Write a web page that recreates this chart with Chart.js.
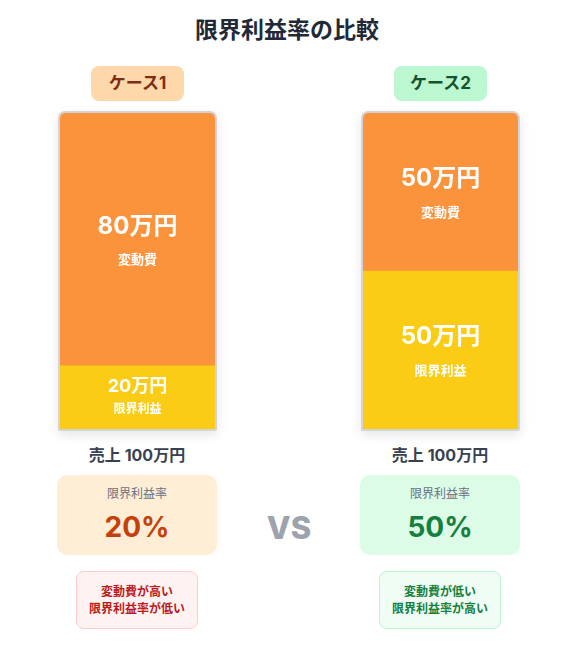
<!DOCTYPE html>
<html lang="ja">
<head>
<meta charset="utf-8">
<script src="https://cdn.jsdelivr.net/npm/chart.js@4.4.1/dist/chart.umd.min.js"></script>
<style>
  html,body{margin:0;padding:0;background:#ffffff;}
  body{width:574px;height:649px;position:relative;overflow:hidden;font-family:"Inter","Noto Sans CJK JP",sans-serif;}
  .abs{position:absolute;}
  .title{left:0;width:574px;top:14px;text-align:center;font-size:23px;font-weight:700;color:#1f2937;line-height:32px;}
  .badge{height:35px;line-height:35px;border-radius:8px;text-align:center;font-size:17px;font-weight:700;}
  .barwrap{box-sizing:border-box;border:2px solid #d4d4d8;border-radius:7px 7px 2px 2px;overflow:hidden;box-shadow:0 4px 12px rgba(0,0,0,0.10);background:#fff;}
  .barwrap canvas{display:block;}
  .sales{width:160px;text-align:center;font-size:16px;font-weight:700;color:#374151;line-height:20px;}
  .rate{border-radius:10px;text-align:center;}
  .rate .lbl{position:absolute;left:0;right:0;top:10px;font-size:12px;color:#6b7280;line-height:18px;}
  .rate .val{position:absolute;left:0;right:0;top:33px;font-size:28px;font-weight:700;line-height:38px;}
  .vs{left:239px;width:100px;top:508px;text-align:center;font-size:31px;font-weight:800;color:#9ca3af;line-height:40px;}
  .note{box-sizing:border-box;border-radius:8px;border:1px solid;text-align:center;font-size:12px;font-weight:700;line-height:17px;padding-top:11px;}
</style>
</head>
<body>
<div class="abs title">限界利益率の比較</div>
<div id="root"></div>
<script>
const cases = ['ケース1', 'ケース2'];
const variableCost = [80, 50];     // 万円
const marginalProfit = [20, 50];   // 万円
const sales = [100, 100];          // 万円
const seriesLabels = ['変動費', '限界利益'];
const rateLabel = '限界利益率';
const salesLabel = '売上';
const notes = [['変動費が高い', '限界利益率が低い'], ['変動費が低い', '限界利益率が高い']];

const styles = [
  {cx:137, badgeBg:'#fed7aa', badgeFg:'#7c2d12', rateBg:'#ffedd5', rateFg:'#c2410c', noteBg:'#fef2f2', noteBd:'#fecaca', noteFg:'#b91c1c'},
  {cx:440, badgeBg:'#bbf7d0', badgeFg:'#14532d', rateBg:'#dcfce7', rateFg:'#15803d', noteBg:'#f0fdf4', noteBd:'#bbf7d0', noteFg:'#15803d'}
];
const ORANGE = '#fb923c', YELLOW = '#facc15';

const root = document.getElementById('root');
function el(cls, css, html){
  const d = document.createElement('div');
  d.className = 'abs ' + cls;
  Object.assign(d.style, css);
  if (html !== undefined) d.innerHTML = html;
  root.appendChild(d);
  return d;
}

const inBarText = {
  id: 'inBarText',
  afterDatasetsDraw(chart){
    const ctx = chart.ctx;
    ctx.save();
    ctx.fillStyle = '#ffffff';
    ctx.textAlign = 'center';
    ctx.textBaseline = 'middle';
    chart.data.datasets.forEach((ds, di) => {
      const meta = chart.getDatasetMeta(di);
      meta.data.forEach((bar, i) => {
        const v = ds.data[i];
        const h = Math.abs(bar.base - bar.y);
        const mid = (bar.base + bar.y) / 2;
        const small = h < 100;
        const bigSize = small ? 18 : 24;
        const lblSize = small ? 12 : 13;
        const off1 = small ? -11 : -13;
        const off2 = small ? 11 : 20;
        ctx.font = '700 ' + bigSize + 'px Inter, "Noto Sans CJK JP", sans-serif';
        ctx.fillText(v + '万円', bar.x, mid + off1);
        ctx.font = '700 ' + lblSize + 'px "Noto Sans CJK JP", sans-serif';
        ctx.fillText(ds.label, bar.x, mid + off2);
      });
    });
    ctx.restore();
  }
};

cases.forEach((name, i) => {
  const s = styles[i];
  el('badge', {left:(s.cx - 46) + 'px', top:'66px', width:'93px', background:s.badgeBg, color:s.badgeFg}, name);

  const wrap = el('barwrap', {left:(s.cx - 79) + 'px', top:'111px', width:'159px', height:'320px'});
  const cv = document.createElement('canvas');
  cv.width = 155; cv.height = 316;
  cv.style.width = '155px'; cv.style.height = '316px';
  wrap.appendChild(cv);

  new Chart(cv, {
    type: 'bar',
    data: {
      labels: [name],
      datasets: [
        {label: seriesLabels[1], data: [marginalProfit[i]], backgroundColor: YELLOW, borderWidth: 0},
        {label: seriesLabels[0], data: [variableCost[i]], backgroundColor: ORANGE, borderWidth: 0}
      ]
    },
    options: {
      responsive: false,
      animation: false,
      layout: {padding: 0},
      plugins: {legend: {display: false}, tooltip: {enabled: false}},
      scales: {
        x: {display: false, stacked: true},
        y: {display: false, stacked: true, min: 0, max: sales[i]}
      },
      datasets: {bar: {barPercentage: 1, categoryPercentage: 1}}
    },
    plugins: [inBarText]
  });

  el('sales', {left:(s.cx - 80) + 'px', top:'445px'}, salesLabel + ' ' + sales[i] + '万円');

  const rate = Math.round(marginalProfit[i] / sales[i] * 100);
  const r = el('rate', {left:(s.cx - 80) + 'px', top:'475px', width:'160px', height:'80px', background:s.rateBg});
  r.innerHTML = '<div class="lbl">' + rateLabel + '</div><div class="val" style="color:' + s.rateFg + '">' + rate + '%</div>';

  el('note', {left:(s.cx - 61) + 'px', top:'571px', width:'122px', height:'58px', background:s.noteBg, borderColor:s.noteBd, color:s.noteFg},
     notes[i].join('<br>'));
});
el('vs', {}, 'VS');
</script>
</body>
</html>
